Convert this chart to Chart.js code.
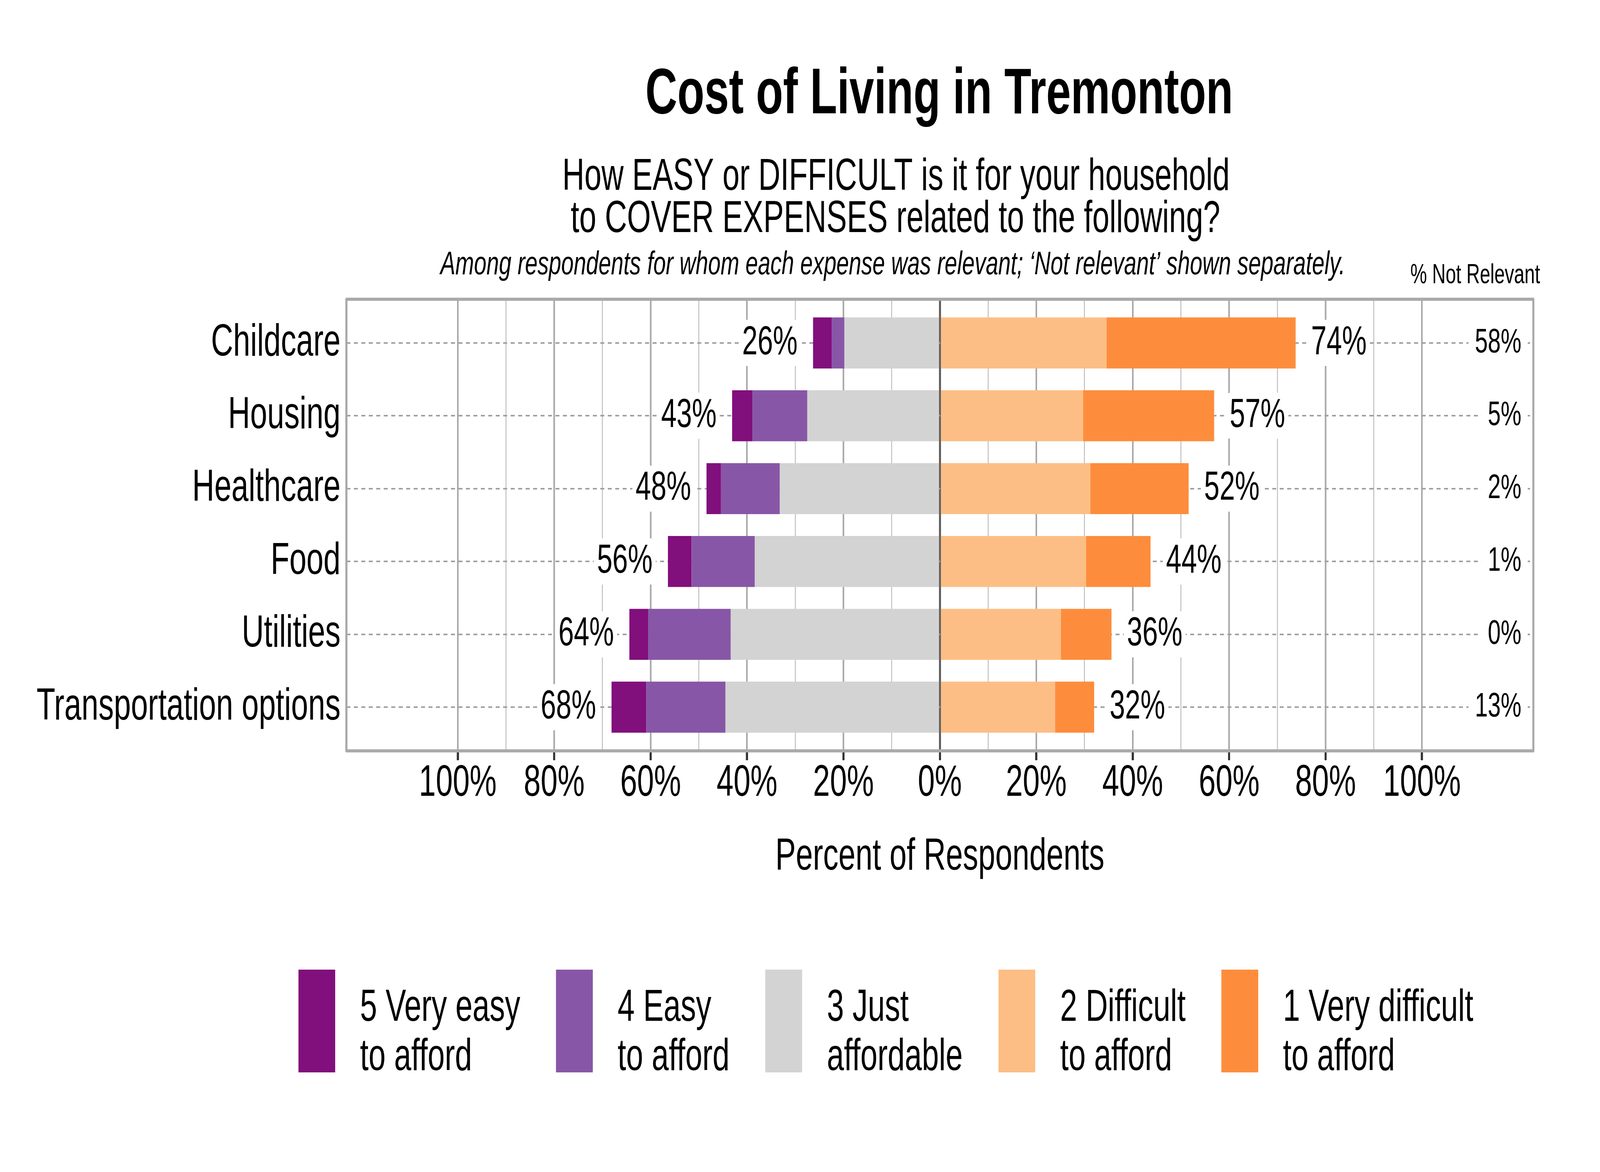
<!DOCTYPE html>
<html>
<head>
<meta charset="utf-8">
<title>Cost of Living in Tremonton</title>
<script src="https://cdn.jsdelivr.net/npm/chart.js@4.4.0/dist/chart.umd.min.js"></script>
<style>
  html, body { margin: 0; padding: 0; background: #fff; overflow: hidden; }
  /* drawn at 6000x3000, stretched to whatever the window is */
  #costChart { display: block; width: 100vw !important; height: 100vh !important; }
</style>
</head>
<body>
<canvas id="costChart" width="6000" height="3000" style="width:100vw;height:100vh"></canvas>
<script>
// data (percent of respondents for whom the expense is relevant)
const categories = ['Childcare', 'Housing', 'Healthcare', 'Food', 'Utilities', 'Transportation options'];
const veryEasy = [3.9, 4.2, 3.0, 4.9, 3.9, 7.2];
const easy = [2.6, 11.4, 12.2, 13.1, 17.1, 16.4];
const justAffordable = [19.8, 27.5, 33.2, 38.4, 43.4, 44.5];
const difficult = [34.6, 29.7, 31.2, 30.3, 25.1, 23.9];
const veryDifficult = [39.2, 27.2, 20.4, 13.4, 10.5, 8.1];
const notRelevant = [58, 5, 2, 1, 0, 13];

const xTickValues = [-100, -90, -80, -70, -60, -50, -40, -30, -20, -10, 0, 10, 20, 30, 40, 50, 60, 70, 80, 90, 100];
const legendLabels = [
    ['5 Very easy', 'to afford'],
    ['4 Easy', 'to afford'],
    ['3 Just', 'affordable'],
    ['2 Difficult', 'to afford'],
    ['1 Very difficult', 'to afford']
];
const colors = ['#810f7c', '#8856a7', '#d3d3d3', '#fdbe85', '#fd8d3c'];

const FONT = '"Liberation Sans", Arial, Helvetica, sans-serif';
Chart.defaults.font.family = FONT;

// left side values are negative so they stack out from zero
const toPoints = (values, sign) => values.map((v, i) => ({ x: sign * v, y: i + 1 }));

const labelBox = (ctx, text, x, y, align, pad, h) => {
    const w = ctx.measureText(text).width;
    const left = align === 'right' ? x - w - pad : x - pad;
    ctx.fillStyle = '#fff';
    ctx.beginPath();
    ctx.roundRect(left, y - h / 2, w + pad * 2, h, 14);
    ctx.fill();
    ctx.fillStyle = '#000';
    ctx.textAlign = align;
    ctx.fillText(text, x, y);
};

const annotations = {
    id: 'annotations',
    afterDatasetsDraw(chart) {
        const { ctx, chartArea, scales: { x, y } } = chart;
        ctx.save();
        ctx.textBaseline = 'middle';

        // totals at the end of each side
        ctx.font = '104px ' + FONT;
        categories.forEach((cat, i) => {
            const yPos = y.getPixelForValue(i + 1);
            const left = veryEasy[i] + easy[i] + justAffordable[i];
            const right = difficult[i] + veryDifficult[i];
            labelBox(ctx, Math.round(left) + '%', x.getPixelForValue(-left) - 58, yPos, 'right', 12, 118);
            labelBox(ctx, Math.round(right) + '%', x.getPixelForValue(right) + 58, yPos, 'left', 12, 118);
        });

        // % not relevant column
        ctx.font = '87px ' + FONT;
        notRelevant.forEach((v, i) => {
            labelBox(ctx, v + '%', chartArea.right - 45, y.getPixelForValue(i + 1), 'right', 24, 100);
        });

        // panel border
        ctx.strokeStyle = '#aaaaaa';
        ctx.lineWidth = 8;
        ctx.lineJoin = 'round';
        ctx.strokeRect(chartArea.left, chartArea.top, chartArea.right - chartArea.left, chartArea.bottom - chartArea.top);
        ctx.restore();
    },
    afterDraw(chart) {
        const { ctx } = chart;
        ctx.save();
        ctx.fillStyle = '#000';
        ctx.textAlign = 'center';
        ctx.textBaseline = 'alphabetic';

        ctx.font = 'bold 166px ' + FONT;
        ctx.fillText('Cost of Living in Tremonton', 3522, 290);

        ctx.font = '115px ' + FONT;
        ctx.fillText('How EASY or DIFFICULT is it for your household', 3360, 486);
        ctx.fillText('to COVER EXPENSES related to the following?', 3358, 594);

        ctx.font = 'italic 84px ' + FONT;
        ctx.fillText('Among respondents for whom each expense was relevant; \u2018Not relevant\u2019 shown separately.', 3348, 702);

        ctx.font = '70px ' + FONT;
        ctx.fillText('% Not Relevant', 5532, 725);

        // legend: tall swatch + two line label
        ctx.font = '115px ' + FONT;
        ctx.textAlign = 'left';
        const gap = 134, textOffset = 231;
        const widths = legendLabels.map(lines => textOffset + Math.max(...lines.map(t => ctx.measureText(t).width)));
        const total = widths.reduce((a, b) => a + b, 0) + gap * (widths.length - 1);
        let lx = 3322 - total / 2;
        legendLabels.forEach((lines, i) => {
            ctx.fillStyle = colors[i];
            ctx.fillRect(lx, 2482, 138, 263);
            ctx.fillStyle = '#000';
            ctx.fillText(lines[0], lx + textOffset, 2613);
            ctx.fillText(lines[1], lx + textOffset, 2739);
            lx += widths[i] + gap;
        });
        ctx.restore();
    }
};

new Chart(document.getElementById('costChart'), {
    type: 'bar',
    data: {
        datasets: [
            { label: '3 Just affordable', data: toPoints(justAffordable, -1), backgroundColor: colors[2] },
            { label: '4 Easy to afford', data: toPoints(easy, -1), backgroundColor: colors[1] },
            { label: '5 Very easy to afford', data: toPoints(veryEasy, -1), backgroundColor: colors[0] },
            { label: '2 Difficult to afford', data: toPoints(difficult, 1), backgroundColor: colors[3] },
            { label: '1 Very difficult to afford', data: toPoints(veryDifficult, 1), backgroundColor: colors[4] }
        ]
    },
    options: {
        indexAxis: 'y',
        responsive: false,
        animation: false,
        devicePixelRatio: 1,
        layout: { padding: { left: 0, right: 250, top: 766, bottom: 0 } },
        datasets: { bar: { barPercentage: 0.7, categoryPercentage: 1, borderWidth: 0 } },
        plugins: {
            legend: { display: false },
            title: { display: false },
            tooltip: { enabled: false }
        },
        scales: {
            x: {
                type: 'linear',
                stacked: true,
                min: -123.1,
                max: 123.1,
                afterBuildTicks: (scale) => { scale.ticks = xTickValues.map(v => ({ value: v })); },
                afterFit: (scale) => { scale.height = 1078; },
                border: { display: false },
                grid: {
                    color: (c) => c.tick.value === 0 ? '#5f5f5f' : (c.tick.value % 20 === 0 ? '#a9a9a9' : '#b5b5b5'),
                    lineWidth: (c) => c.tick.value === 0 ? 8 : (c.tick.value % 20 === 0 ? 6 : 3),
                    tickColor: (c) => c.tick.value % 20 === 0 ? '#333333' : 'rgba(0,0,0,0)',
                    tickWidth: 8,
                    tickLength: 24
                },
                ticks: {
                    autoSkip: false,
                    maxRotation: 0,
                    padding: -9,
                    color: '#000',
                    font: { size: 114 },
                    callback: (v) => v % 20 === 0 ? Math.abs(v) + '%' : ''
                },
                title: {
                    display: true,
                    text: 'Percent of Respondents',
                    color: '#000',
                    font: { size: 115 },
                    padding: { top: 0, bottom: 737 }
                }
            },
            y: {
                type: 'linear',
                stacked: true,
                reverse: true,
                min: 0.4,
                max: 6.6,
                offset: false,
                afterBuildTicks: (scale) => { scale.ticks = categories.map((c, i) => ({ value: i + 1 })); },
                afterFit: (scale) => { scale.width = 1299; },
                border: { display: false, dash: [15, 13] },
                grid: { offset: false, color: '#a0a0a0', lineWidth: 4, drawTicks: false },
                ticks: {
                    autoSkip: false,
                    padding: 22,
                    color: '#000',
                    font: { size: 115 },
                    callback: (v) => categories[v - 1]
                }
            }
        }
    },
    plugins: [annotations]
});
</script>
</body>
</html>
